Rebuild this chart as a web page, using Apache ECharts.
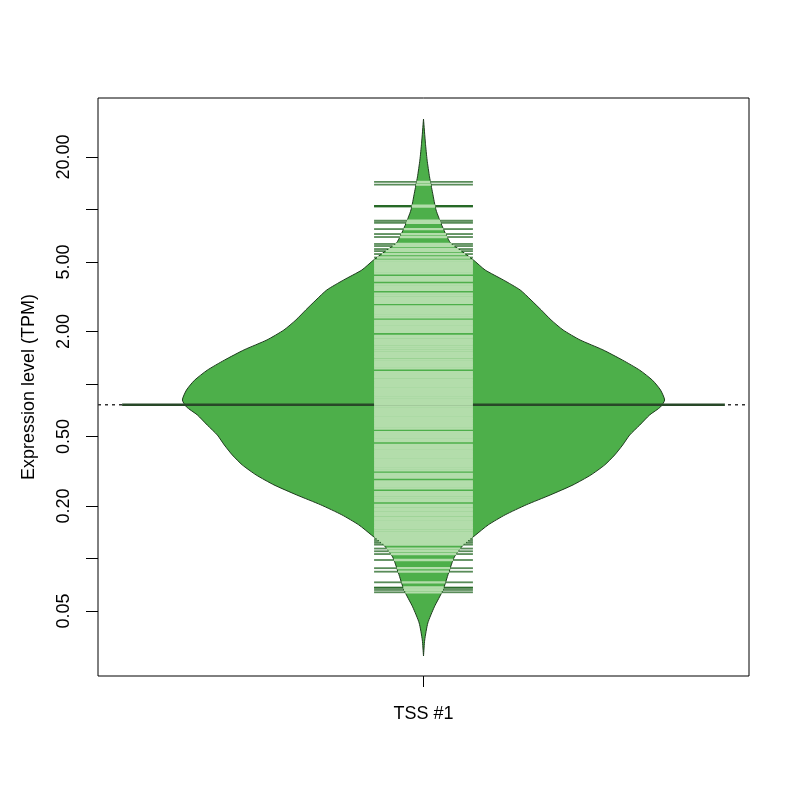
<!DOCTYPE html>
<html>
<head>
<meta charset="utf-8">
<script src="https://cdn.jsdelivr.net/npm/echarts@6/dist/echarts.min.js"></script>
<style>
  html, body { margin: 0; padding: 0; background: #fff; }
  #chart { width: 800px; height: 800px; }
</style>
</head>
<body>
<div id="chart"></div>
<script>
// categories (bean i sits at x = i + 1)
var groups = ['TSS #1'];
var xRange = [0.46, 1.54];

// y axis (TPM, log scale)
var yRange = [0.0212, 43.6];
var labelTicks = [0.05, 0.2, 0.5, 2, 5, 20];
var allTicks = [0.05, 0.1, 0.2, 0.5, 1, 2, 5, 10, 20];

// bean outline: level (TPM) and relative density (1 = widest)
var beanLevels = [33.0, 24.0, 19.2, 15.4, 12.4, 9.94, 7.94, 6.43, 5.86, 5.14, 4.50, 3.95, 3.46, 3.03,
    2.66, 2.33, 2.04, 1.79, 1.57, 1.37, 1.20, 1.05, 0.924, 0.810, 0.739, 0.665, 0.582, 0.510, 0.447,
    0.392, 0.344, 0.301, 0.264, 0.231, 0.203, 0.178, 0.156, 0.136, 0.1195, 0.102, 0.0826, 0.066,
    0.0528, 0.0427, 0.0341, 0.0276];
var beanDensity = [0, 0.008, 0.015, 0.025, 0.038, 0.052, 0.079, 0.112, 0.152, 0.207, 0.256, 0.331, 0.401, 0.446,
    0.488, 0.529, 0.579, 0.649, 0.744, 0.826, 0.897, 0.950, 0.983, 1.0, 0.983, 0.938, 0.897, 0.855, 0.826,
    0.793, 0.752, 0.694, 0.620, 0.525, 0.426, 0.339, 0.269, 0.215, 0.165, 0.128, 0.104, 0.081,
    0.045, 0.018, 0.005, 0];

// one value per bean line (TPM)
var tpmValues = [
    14.4, 13.9, 10.5, 10.5, 10.4, 8.63, 8.40, 7.73, 7.24, 6.96, 6.35, 6.18, 5.94, 5.78, 5.56, 5.31,
    5.10, 4.98, 4.86, 4.75, 4.63, 4.52, 4.41, 4.31, 4.10, 4.00, 3.91, 3.72, 3.63, 3.55, 3.46,
    3.30, 3.22, 3.14, 3.07, 3.00, 2.92, 2.79, 2.72, 2.66, 2.59, 2.53, 2.47, 2.41, 2.30, 2.24,
    2.19, 2.14, 2.09, 2.04, 1.99, 1.89, 1.85, 1.80, 1.76, 1.72, 1.68, 1.64, 1.60, 1.56, 1.52,
    1.49, 1.45, 1.42, 1.38, 1.35, 1.32, 1.29, 1.26, 1.23, 1.17, 1.14, 1.11, 1.09, 1.06, 1.04,
    1.01, 0.99, 0.965, 0.943, 0.921, 0.899, 0.878, 0.857, 0.837, 0.817, 0.798, 0.779, 0.761,
    0.743, 0.725, 0.708, 0.691, 0.675, 0.659, 0.643, 0.628, 0.613, 0.598, 0.584, 0.570, 0.556,
    0.530, 0.517, 0.505, 0.493, 0.481, 0.470, 0.448, 0.437, 0.427, 0.417, 0.407, 0.397, 0.388,
    0.379, 0.370, 0.361, 0.352, 0.344, 0.336, 0.328, 0.320, 0.305, 0.298, 0.291, 0.277, 0.270,
    0.264, 0.258, 0.252, 0.240, 0.234, 0.229, 0.223, 0.218, 0.213, 0.203, 0.198, 0.193, 0.189,
    0.184, 0.180, 0.176, 0.171, 0.167, 0.163, 0.160, 0.156, 0.152, 0.149, 0.145, 0.141, 0.138,
    0.135, 0.132, 0.129, 0.126, 0.123, 0.120,
    0.114, 0.110, 0.106, 0.098, 0.088, 0.084, 0.073, 0.068, 0.068, 0.066, 0.064
];
var beanMean = 0.76;

// half widths in x-axis units
var BEAN_W = 0.4, LINE_W = 0.082, AVG_W = 0.5;

var log10 = function (v) { return Math.log(v) / Math.LN10; };

function densityAt(v) {
    var l = log10(v);
    for (var i = 0; i < beanLevels.length - 1; i++) {
        var a = log10(beanLevels[i]), b = log10(beanLevels[i + 1]);
        if (l <= a && l >= b) {
            var t = (a - l) / (a - b);
            return beanDensity[i] + t * (beanDensity[i + 1] - beanDensity[i]);
        }
    }
    return 0;
}

var chart = echarts.init(document.getElementById('chart'), null, {renderer: 'canvas'});

var font = {fontFamily: 'Liberation Sans, Arial, Helvetica, sans-serif', fontSize: 18, color: '#000'};
var beanX = groups.map(function (g, i) { return i + 1; });

var option = {
    animation: false,
    backgroundColor: '#fff',
    grid: {
        left: 98, right: 51, top: 98, bottom: 124,
        show: true, borderColor: '#000', borderWidth: 1, backgroundColor: 'transparent'
    },
    xAxis: {
        type: 'value',
        min: xRange[0],
        max: xRange[1],
        axisLine: {show: false, onZero: false},
        axisTick: {show: true, length: 11, lineStyle: {color: '#000', width: 1}, customValues: beanX},
        axisLabel: Object.assign({
            margin: 29,
            customValues: beanX,
            formatter: function (v) { return groups[Math.round(v) - 1]; }
        }, font),
        splitLine: {show: false}
    },
    yAxis: {
        type: 'value',
        min: log10(yRange[0]),
        max: log10(yRange[1]),
        name: 'Expression level (TPM)',
        nameLocation: 'middle',
        nameGap: 60,
        nameTextStyle: font,
        axisLine: {show: false, onZero: false},
        axisTick: {
            show: true, length: 12, lineStyle: {color: '#000', width: 1},
            customValues: allTicks.map(log10)
        },
        axisLabel: Object.assign({
            rotate: 90, margin: 25,
            customValues: labelTicks.map(log10),
            formatter: function (v) { return Math.pow(10, v).toFixed(2); }
        }, font),
        splitLine: {show: false}
    },
    series: [
        {
            // overall average: dotted line across the plot
            type: 'custom',
            silent: true,
            z: 1,
            data: [[1, log10(beanMean)]],
            renderItem: function (params, api) {
                var cs = params.coordSys;
                var p = api.coord([api.value(0), api.value(1)]);
                return {
                    type: 'line',
                    shape: {x1: cs.x, y1: p[1], x2: cs.x + cs.width, y2: p[1]},
                    style: {stroke: '#333', lineWidth: 1.5, lineDash: [3, 4]}
                };
            }
        },
        {
            // the bean
            type: 'custom',
            silent: true,
            z: 2,
            data: [[1, 0]],
            renderItem: function (params, api) {
                var x0 = api.value(0);
                var right = [], left = [];
                for (var i = 0; i < beanLevels.length; i++) {
                    var l = log10(beanLevels[i]);
                    var w = BEAN_W * beanDensity[i];
                    right.push(api.coord([x0 + w, l]));
                    left.unshift(api.coord([x0 - w, l]));
                }
                return {
                    type: 'polygon',
                    shape: {points: right.concat(left), smooth: 0.2},
                    style: {fill: '#4daf4a', stroke: '#1d3b1d', lineWidth: 1}
                };
            }
        },
        {
            // bean average line
            type: 'custom',
            silent: true,
            z: 3,
            data: [[1, log10(beanMean)]],
            renderItem: function (params, api) {
                var a = api.coord([api.value(0) - AVG_W, api.value(1)]);
                var b = api.coord([api.value(0) + AVG_W, api.value(1)]);
                return {
                    type: 'line',
                    shape: {x1: a[0], y1: a[1], x2: b[0], y2: b[1]},
                    style: {stroke: '#284828', lineWidth: 2.5}
                };
            }
        },
        {
            // bean lines: light inside the bean, dark outside
            type: 'custom',
            silent: true,
            z: 4,
            data: tpmValues.map(function (v) { return [1, log10(v), v]; }),
            renderItem: function (params, api) {
                var x0 = api.value(0), l = api.value(1);
                var w = BEAN_W * densityAt(api.value(2));
                var inner = Math.min(w, LINE_W);
                var seg = function (xa, xb, color, lw) {
                    var a = api.coord([xa, l]), b = api.coord([xb, l]);
                    return {type: 'line', shape: {x1: a[0], y1: a[1], x2: b[0], y2: b[1]},
                        style: {stroke: color, lineWidth: lw}};
                };
                var kids = [];
                if (inner > 0) {
                    kids.push(seg(x0 - inner, x0 + inner, '#b3ddab', 2.3));
                }
                if (w < LINE_W) {
                    kids.push(seg(x0 - LINE_W, x0 - w, 'rgba(25,95,25,0.72)', 1.8));
                    kids.push(seg(x0 + w, x0 + LINE_W, 'rgba(25,95,25,0.72)', 1.8));
                }
                return {type: 'group', children: kids};
            }
        }
    ]
};

chart.setOption(option);
</script>
</body>
</html>
